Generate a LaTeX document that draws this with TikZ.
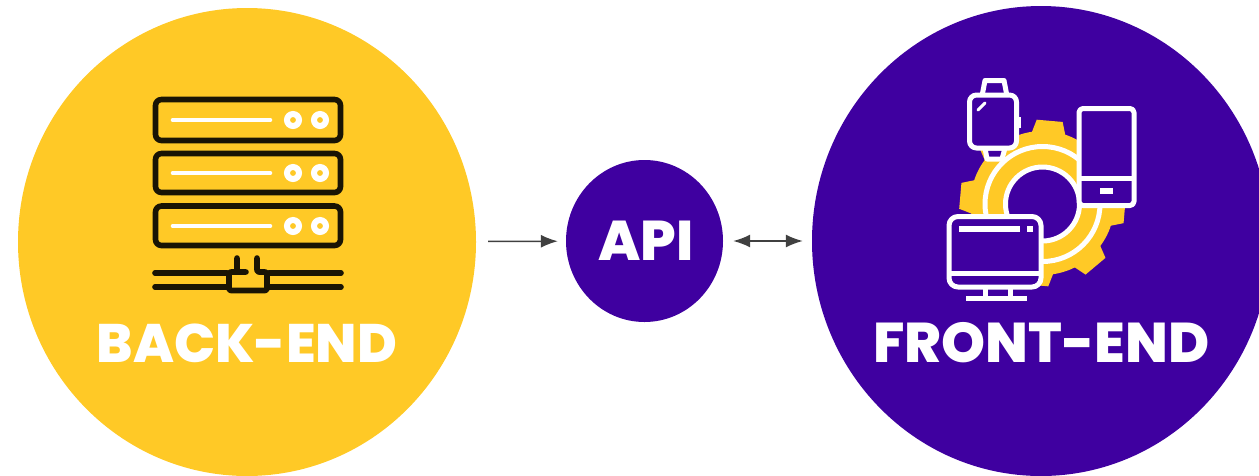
\documentclass[tikz,border=0pt]{standalone}
\usepackage{fontspec}
\setmainfont{Poppins ExtraBold}
\usetikzlibrary{shapes.geometric,arrows.meta}
\definecolor{ylw}{HTML}{FFC926}
\definecolor{prp}{HTML}{3F00A0}
\tikzset{
  disc/.style={ellipse,inner sep=0pt,fill=#1},
  lbl/.style={text=white,inner sep=0pt},
  arr/.style={draw=black!75,line width=1.5pt,-{Latex[length=17pt,width=13pt]}},
  darr/.style={draw=black!75,line width=1.5pt,{Latex[length=17pt,width=13pt]}-{Latex[length=17pt,width=13pt]}},
  blk/.style={draw=black!90!ylw,line width=5.6pt,rounded corners=6pt,line cap=round,line join=round},
  wht/.style={draw=white,line width=5pt,line join=round},
  whtf/.style={wht,fill=prp},
}
\begin{document}
\begin{tikzpicture}[x=1pt,y=-1pt]
\useasboundingbox (0,0) rectangle (1259,475);
\clip (0,0) rectangle (1259,475);
\node[disc=ylw,minimum width=458pt,minimum height=468pt] (back) at (247,242) {};
\node[disc=prp,minimum width=458pt,minimum height=470pt] (front) at (1041,241) {};
\node[disc=prp,minimum width=157pt,minimum height=162pt] (api) at (644.5,241) {};
% server racks
\foreach \t/\b/\m in {99.5/140.5/120,153.5/192.5/173,206/245.5/226}{
  \draw[blk] (155.5,\t) rectangle (340.5,\b);
  \draw[draw=white,line width=4.6pt,line cap=round] (173,\m) -- (270,\m);
  \draw[draw=white,line width=6pt] (293,\m) circle (6pt);
  \draw[draw=white,line width=6pt] (320,\m) circle (6pt);
}
% network
\draw[blk,rounded corners=0pt] (155,273) -- (227,273) (155,287) -- (227,287) (269,273) -- (341,273) (269,287) -- (341,287);
\draw[blk,rounded corners=2pt] (237,258) -- (237,272) (246,272) -- (229,272) -- (229,290.5) -- (267,290.5) -- (267,272) -- (257,272) -- (257,258);
% gear
\fill[ylw] (1042.5,203) circle (72pt);
\foreach \a in {0,45,...,315}{
  \fill[ylw,rotate around={\a-5:(1042.5,203)}] (1108,185) -- (1125,190) -- (1125,216) -- (1108,221) -- cycle;
}
\draw[draw=white,line width=5pt] (1042.5,204) circle (57.5pt);
\draw[whtf] (1042.5,204) circle (37pt);
% watch
\draw[whtf] (982,96) -- (985,80.5) -- (1004,80.5) -- (1007,96) -- cycle;
\draw[whtf] (985,148) -- (987,159) -- (1002,159) -- (1005,148) -- cycle;
\fill[white] (1017,117) rectangle (1021,128);
\draw[whtf,rounded corners=7pt] (969.5,95) rectangle (1016.5,148);
\draw[draw=white,line width=3pt,line cap=round] (978,110) -- (985,103);
% phone
\draw[whtf,rounded corners=4pt] (1079,108.5) rectangle (1134,205.5);
\draw[wht] (1079,178) -- (1134,178);
\fill[white] (1100,188) rectangle (1113,194);
% monitor
\draw[whtf,rounded corners=9pt] (949,216.5) rectangle (1041,287);
\draw[wht] (949,273) -- (1041,273);
\fill[white] (959,226) rectangle (1020,232);
\fill[white] (1027,226) rectangle (1033,232);
\draw[wht] (985,288) -- (985,298) (1010,288) -- (1010,298);
\draw[wht] (966,298) -- (1027,298);
% labels
\node[lbl] (tb) at (247,343) {\fontsize{54.2}{56}\selectfont BACK-END};
\node[lbl] (tf) at (1041.5,343) {\fontsize{56}{56}\selectfont FRONT-END};
\node[lbl] (ta) at (646,241) {\fontsize{56}{56}\selectfont API};
% connectors
\draw[arr,shorten <=12pt,shorten >=8pt] (back) -- (api);
\draw[darr,shorten <=10pt,shorten >=9pt] (api) -- (front);
\end{tikzpicture}
\end{document}
